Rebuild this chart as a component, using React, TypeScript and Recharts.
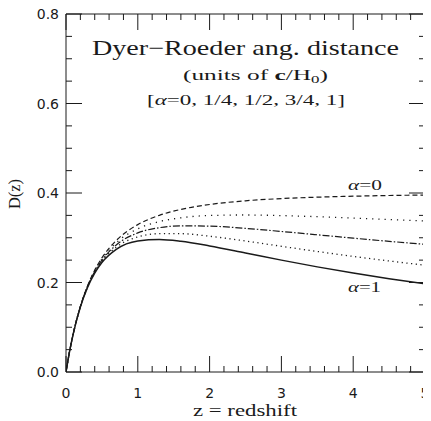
import React from "react";
import { LineChart, Line, XAxis, YAxis } from "recharts";

// redshift samples
const zValues = [0, 0.05, 0.1, 0.2, 0.3, 0.4, 0.5, 0.7, 1.0, 1.3, 1.6, 2.0, 2.5, 3.0, 3.5, 4.0, 4.5, 5.0];
// D(z) for alpha = 0, 1/4, 1/2, 3/4, 1
const alpha0 = [0, 0.0459, 0.0848, 0.1464, 0.1924, 0.2275, 0.2549, 0.2939, 0.3293, 0.3501, 0.3633, 0.3743, 0.3826, 0.3875, 0.3907, 0.3928, 0.3944, 0.3955];
const alpha14 = [0, 0.0459, 0.0848, 0.1461, 0.1916, 0.2259, 0.2523, 0.2888, 0.32, 0.3361, 0.3446, 0.3497, 0.3509, 0.3495, 0.347, 0.3439, 0.3406, 0.3374];
const alpha12 = [0, 0.0459, 0.0847, 0.1458, 0.1908, 0.2244, 0.2497, 0.2839, 0.3108, 0.3225, 0.3266, 0.326, 0.321, 0.314, 0.3066, 0.2991, 0.292, 0.2853];
const alpha34 = [0, 0.0459, 0.0847, 0.1455, 0.19, 0.2228, 0.2472, 0.279, 0.3018, 0.3092, 0.3091, 0.3034, 0.2927, 0.2809, 0.2693, 0.2583, 0.2481, 0.2387];
const alpha1 = [0, 0.0459, 0.0846, 0.1452, 0.1891, 0.2212, 0.2447, 0.2742, 0.2929, 0.2962, 0.2922, 0.2818, 0.266, 0.25, 0.2349, 0.2211, 0.2086, 0.1973];

const xTicks = [0, 0.2, 0.4, 0.6, 0.8, 1, 1.2, 1.4, 1.6, 1.8, 2, 2.2, 2.4, 2.6, 2.8, 3, 3.2, 3.4, 3.6, 3.8, 4, 4.2, 4.4, 4.6, 4.8, 5];
const yTicks = [0, 0.05, 0.1, 0.15, 0.2, 0.25, 0.3, 0.35, 0.4, 0.45, 0.5, 0.55, 0.6, 0.65, 0.7, 0.75, 0.8];

const rows = zValues.map((z, i) => ({
  z,
  a0: alpha0[i],
  a14: alpha14[i],
  a12: alpha12[i],
  a34: alpha34[i],
  a1: alpha1[i],
}));

const INK = "#1a1a1a";
const NUM_FONT = "'DejaVu Sans', sans-serif";
const SERIF = "'Liberation Serif', 'DejaVu Serif', serif";

const isMajorX = (v: number) => Math.abs(v - Math.round(v)) < 1e-6;
const isMajorY = (v: number) => Math.abs(v * 5 - Math.round(v * 5)) < 1e-6;

const BottomTick = (props: any) => {
  const { x, y, payload } = props;
  const v = payload.value;
  const major = isMajorX(v);
  return (
    <g>
      <line x1={x} y1={y} x2={x} y2={y - (major ? 16 : 6)} stroke={INK} strokeWidth={1} />
      {major && (
        <text x={x} y={y + 26} textAnchor="middle" fontFamily={NUM_FONT} fontSize={14} fill={INK}>
          {String(Math.round(v))}
        </text>
      )}
    </g>
  );
};

const TopTick = (props: any) => {
  const { x, y, payload } = props;
  const major = isMajorX(payload.value);
  return <line x1={x} y1={y} x2={x} y2={y + (major ? 16 : 6)} stroke={INK} strokeWidth={1} />;
};

const LeftTick = (props: any) => {
  const { x, y, payload } = props;
  const v = payload.value;
  const major = isMajorY(v);
  return (
    <g>
      <line x1={x} y1={y} x2={x + (major ? 16 : 6)} y2={y} stroke={INK} strokeWidth={1} />
      {major && (
        <text x={x - 7} y={y + 5} textAnchor="end" fontFamily={NUM_FONT} fontSize={14} fill={INK}>
          {v.toFixed(1)}
        </text>
      )}
    </g>
  );
};

const RightTick = (props: any) => {
  const { x, y, payload } = props;
  const major = isMajorY(payload.value);
  return <line x1={x} y1={y} x2={x - (major ? 16 : 6)} y2={y} stroke={INK} strokeWidth={1} />;
};

export default function App() {
  return (
    <div style={{ position: "relative", width: 431, height: 421, marginTop: -8, marginLeft: -8 }}>
      <LineChart
        width={431}
        height={421}
        data={rows}
        margin={{ top: 13, right: 5, left: 8, bottom: 0 }}
      >
        <XAxis
          xAxisId="b"
          dataKey="z"
          type="number"
          domain={[0, 5]}
          ticks={xTicks}
          interval={0}
          height={49}
          tickSize={0}
          tickMargin={0}
          tickLine={false}
          axisLine={{ stroke: INK }}
          tick={BottomTick}
          allowDataOverflow
        />
        <XAxis
          xAxisId="t"
          orientation="top"
          dataKey="z"
          type="number"
          domain={[0, 5]}
          ticks={xTicks}
          interval={0}
          height={1}
          tickSize={0}
          tickMargin={0}
          tickLine={false}
          axisLine={{ stroke: INK }}
          tick={TopTick}
          allowDataOverflow
        />
        <YAxis
          yAxisId="l"
          type="number"
          domain={[0, 0.8]}
          ticks={yTicks}
          interval={0}
          width={58}
          tickSize={0}
          tickMargin={0}
          tickLine={false}
          axisLine={{ stroke: INK }}
          tick={LeftTick}
          allowDataOverflow
        />
        <YAxis
          yAxisId="r"
          orientation="right"
          type="number"
          domain={[0, 0.8]}
          ticks={yTicks}
          interval={0}
          width={1}
          tickSize={0}
          tickMargin={0}
          tickLine={false}
          axisLine={{ stroke: INK }}
          tick={RightTick}
          allowDataOverflow
        />
        <Line xAxisId="b" yAxisId="l" type="monotone" dataKey="a0" stroke={INK} strokeWidth={1.2} strokeDasharray="5 3" dot={false} isAnimationActive={false} />
        <Line xAxisId="b" yAxisId="l" type="monotone" dataKey="a14" stroke={INK} strokeWidth={1.3} strokeDasharray="1.2 5" dot={false} isAnimationActive={false} />
        <Line xAxisId="b" yAxisId="l" type="monotone" dataKey="a12" stroke={INK} strokeWidth={1.2} strokeDasharray="7 2 1.5 2" dot={false} isAnimationActive={false} />
        <Line xAxisId="b" yAxisId="l" type="monotone" dataKey="a34" stroke={INK} strokeWidth={1.3} strokeDasharray="1.2 3.5" dot={false} isAnimationActive={false} />
        <Line xAxisId="b" yAxisId="l" type="monotone" dataKey="a1" stroke={INK} strokeWidth={1.5} dot={false} isAnimationActive={false} />
      </LineChart>
      <svg
        width={431}
        height={421}
        style={{ position: "absolute", left: 0, top: 0, pointerEvents: "none" }}
      >
        <text x={245.5} y={55} textAnchor="middle" fontFamily={SERIF} fontSize={21} fill={INK} textLength={307} lengthAdjust="spacingAndGlyphs">
          Dyer−Roeder ang. distance
        </text>
        <text x={255.5} y={80} textAnchor="middle" fontFamily={SERIF} fontSize={15} fill={INK} textLength={145} lengthAdjust="spacingAndGlyphs">
          (units of <tspan fontWeight="bold">c</tspan>/H<tspan fontSize={10} dy={3}>0</tspan><tspan dy={-3}>)</tspan>
        </text>
        <text x={246} y={105} textAnchor="middle" fontFamily={SERIF} fontSize={15} fill={INK} textLength={198} lengthAdjust="spacingAndGlyphs">
          [<tspan fontStyle="italic">α</tspan>=0, 1/4, 1/2, 3/4, 1]
        </text>
        <text x={348} y={190} fontFamily={SERIF} fontSize={15} fill={INK} textLength={34} lengthAdjust="spacingAndGlyphs">
          <tspan fontStyle="italic">α</tspan>=0
        </text>
        <text x={348} y={292} fontFamily={SERIF} fontSize={15} fill={INK} textLength={33} lengthAdjust="spacingAndGlyphs">
          <tspan fontStyle="italic">α</tspan>=1
        </text>
        <text x={245} y={416} textAnchor="middle" fontFamily={SERIF} fontSize={17} fill={INK} textLength={104} lengthAdjust="spacingAndGlyphs">
          z = redshift
        </text>
        <text x={0} y={0} transform="translate(20,194) rotate(-90)" textAnchor="middle" fontFamily={SERIF} fontSize={16} fill={INK} textLength={30} lengthAdjust="spacingAndGlyphs">
          D(z)
        </text>
      </svg>
    </div>
  );
}
